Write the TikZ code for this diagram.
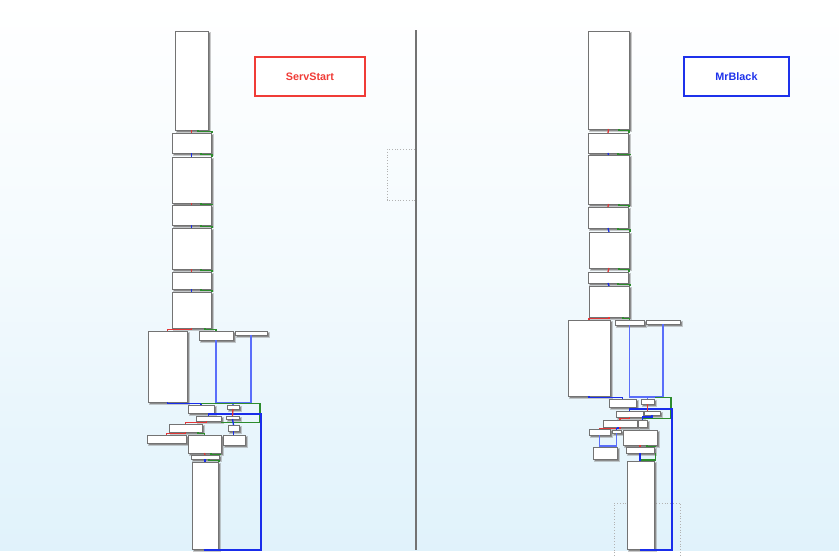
\documentclass[tikz,border=0pt]{standalone}
\usepackage{fontspec}
\newfontfamily\lab{Liberation Sans}
\definecolor{bgbot}{RGB}{224,242,251}
\definecolor{boxline}{RGB}{115,115,115}
\definecolor{shadowc}{RGB}{140,140,140}
\definecolor{edgered}{RGB}{225,55,55}
\definecolor{edgegreen}{RGB}{45,140,45}
\definecolor{edgeblue}{RGB}{25,45,235}
\definecolor{edgeblueL}{RGB}{90,110,250}
\definecolor{servred}{RGB}{240,60,55}
\definecolor{mrblue}{RGB}{30,50,235}
\tikzset{
  blkstyle/.style={draw=boxline, fill=white, line width=1pt, inner sep=0pt, outer sep=0pt},
  redE/.style={draw=edgered, line width=1.3pt},
  greenE/.style={draw=edgegreen, line width=1.2pt},
  blueE/.style={draw=edgeblue, line width=1.3pt},
  blueL/.style={draw=edgeblueL, line width=1.1pt},
  blueT/.style={draw=edgeblue, line width=1.6pt},
  tagbox/.style={line width=1.7pt, fill=white, minimum height=39pt, inner sep=0pt,
    font=\lab\bfseries\fontsize{10.8}{12}\selectfont},
  dotbox/.style={draw=gray!60, line width=0.8pt, dotted}
}
\newcommand\cfblk[5]{%
  \fill[shadowc, opacity=0.45] (#2+1.2,#3+1.2) rectangle (#4+3,#5+3);
  \fill[shadowc] (#2+1.6,#3+1.6) rectangle (#4+2,#5+2);
  \node[blkstyle, anchor=north west, minimum width={(#4-#2)*1pt}, minimum height={(#5-#3)*1pt}] (#1) at (#2,#3) {};}
\newcommand\cfgap[3]{%
  \draw[#3] (#1.south) -- (#2.north);
  \draw[greenE] ([xshift=-10pt]#1.south east) -- ++(0,1.2) -| ([xshift=1pt]#2.north east);}
\begin{document}
\begin{tikzpicture}[x=1pt,y=-1pt]
\useasboundingbox (0,0) rectangle (839,560);
\shade[top color=white, bottom color=bgbot, middle color={white!60!bgbot}] (0,0) rectangle (839,551);
\fill[white] (0,551) rectangle (839,560);

% divider and dotted frames
\draw[dotbox] (415,149) -- (387,149) -- (387,200) -- (415,200);
\draw[draw=black!55, line width=1.6pt] (416,30) coordinate (dtop) -- (416,550) coordinate (dbot);
\draw[dotbox] (614,556) -- (614,503) -- (680,503) -- (680,556);

% tags
\node[tagbox, draw=servred, text=servred, minimum width=110pt] (serv) at (310,76.5) {ServStart};
\node[tagbox, draw=mrblue, text=mrblue, minimum width=105pt] (mrb) at (736.5,76.5) {MrBlack};

% ---------------- left graph ----------------
\cfblk{L1}{175}{31}{208}{130}
\cfblk{L2}{172}{133}{211}{153}
\cfblk{L3}{172}{157}{211}{203}
\cfblk{L4}{172}{205}{211}{225}
\cfblk{L5}{172}{228}{211}{269}
\cfblk{L6}{172}{272}{211}{289}
\cfblk{L7}{172}{292}{211}{328}
\cfblk{LA}{148}{331}{187}{402}
\cfblk{LB}{199}{331}{233}{340}
\cfblk{LC}{235}{331}{267}{335}
\cfblk{LD}{188}{405}{214}{413}
\cfblk{LE}{227}{405}{239}{409}
\cfblk{LF}{196}{416}{221}{421}
\cfblk{LG}{226}{416}{239}{419}
\cfblk{LH}{169}{424}{202}{432}
\cfblk{LI}{228}{425}{239}{431}
\cfblk{LJ}{147}{435}{186}{443}
\cfblk{LK}{188}{435}{221}{453}
\cfblk{LL}{223}{435}{245}{445}
\cfblk{LM}{191}{455}{219}{459}
\cfblk{LN}{192}{462}{218}{549}

\cfgap{L1}{L2}{redE}
\cfgap{L2}{L3}{blueE}
\cfgap{L3}{L4}{redE}
\cfgap{L4}{L5}{blueE}
\cfgap{L5}{L6}{redE}
\cfgap{L6}{L7}{blueE}
\draw[redE] (L7.south) -- ++(0,1.3) -| (LA.north);
\draw[greenE] ([xshift=-6pt]L7.south east) -- ++(0,1.3) -| (LB.north);
\draw[blueL] (LB.south) -- ++(0,63) -| (LE.north);
\draw[blueL] (LC.south) -- ++(0,68) -| (LE.north);
\draw[blueE] (LA.south) -- ++(0,1.2) -| (LD.north);
\draw[greenE] ([shift={(14,1.6)}]LA.south east) -- ++(59,0) |- ([yshift=-1.5pt]LF.south east);
\draw[blueT] (LN.south) -- ++(0,1) -- ++(56,0) |- ([yshift=2pt]LF.north) -- (LF.north);
\draw[redE] (LE.south) -- (LG.north);
\draw[blueE] (LG.south) -- (LI.north);
\draw[blueE] (LI.south) -- (LI.south |- LL.north);
\draw[redE] ([xshift=-2pt]LF.south) -- ++(0,1.3) -| (LH.north);
\draw[redE] (LH.south) -- ++(0,1.3) -| (LJ.north);
\draw[greenE] ([xshift=-4pt]LH.south east) -- ++(0,1.3) -| (LK.north);
\cfgap{LK}{LM}{redE}
\cfgap{LM}{LN}{blueE}

% ---------------- right graph ----------------
\cfblk{R1}{588}{31}{629}{129}
\cfblk{R2}{588}{133}{628}{153}
\cfblk{R3}{588}{155}{629}{204}
\cfblk{R4}{588}{207}{628}{228}
\cfblk{R5}{589}{232}{629}{268}
\cfblk{R6}{588}{272}{628}{283}
\cfblk{R7}{589}{286}{629}{317}
\cfblk{RA}{568}{320}{610}{396}
\cfblk{RB}{615}{320}{644}{325}
\cfblk{RC}{646}{320}{680}{324}
\cfblk{RD}{609}{399}{636}{407}
\cfblk{RE}{641}{399}{654}{404}
\cfblk{RF}{616}{411}{643}{417}
\cfblk{RG}{644}{411}{660}{415}
\cfblk{RH}{603}{420}{637}{427}
\cfblk{RI}{638}{420}{647}{427}
\cfblk{RJ}{589}{429}{610}{435}
\cfblk{RK}{612}{430}{621}{433}
\cfblk{RL}{623}{430}{657}{445}
\cfblk{RM}{593}{447}{617}{459}
\cfblk{RN}{626}{447}{654}{453}
\cfblk{RO}{627}{461}{654}{549}

\cfgap{R1}{R2}{redE}
\cfgap{R2}{R3}{blueE}
\cfgap{R3}{R4}{redE}
\cfgap{R4}{R5}{blueE}
\cfgap{R5}{R6}{redE}
\cfgap{R6}{R7}{blueE}
\draw[redE] (R7.south) -- ++(0,1.3) -| (RA.north);
\draw[greenE] ([xshift=-6pt]R7.south east) -- ++(0,1.3) -| (RB.north);
\draw[blueL] (RB.south) -- ++(0,72) -| (RE.north);
\draw[blueL] (RC.south) -- ++(0,73) -| (RE.north);
\draw[blueE] (RA.south) -- ++(0,1.2) -| (RD.north);
\draw[greenE] ([shift={(1,-1.5)}]RE.north east) -- ++(16,0) |- ([yshift=-1.5pt]RF.south east);
\draw[blueT] (RO.south) -- ++(0,1) -- ++(31.5,0) |- ([yshift=2pt]RF.north) -- (RF.north);
\draw[redE] (RE.south) -- (RE.south |- RG.north);
\draw[redE] (RF.south) -- ++(0,1.5) -| (RH.north);
\draw[blueE] (RG.south) -- ++(0,2) -| (RI.north);
\draw[redE] (RH.south) -- ++(0,1.3) -| (RJ.north);
\draw[blueE] ([xshift=-2pt]RH.south) -- ++(0,1.3) -| (RK.north);
\draw[blueL] (RJ.south) -- ++(0,11) -| (RM.north);
\draw[blueL] (RK.south) -- ++(0,13) -| (RM.north);
\cfgap{RL}{RN}{redE}
\draw[blueE] (RN.south) -- (RN.south |- RO.north);
\draw[greenE] ([xshift=1.5pt]RN.south east) |- ([yshift=1pt]RO.north);
\end{tikzpicture}
\end{document}
